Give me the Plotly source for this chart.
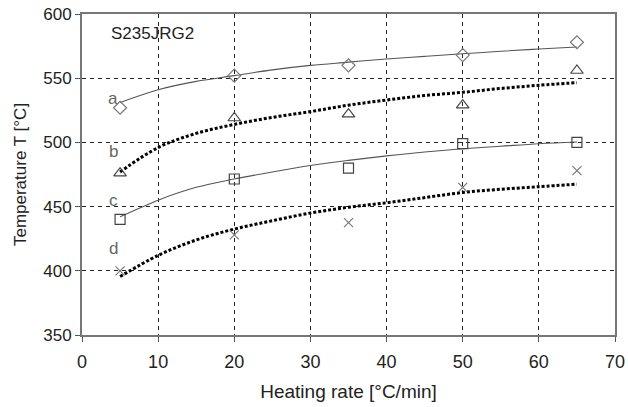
import plotly.graph_objects as go

# measured points
rate = [5, 20, 35, 50, 65]
temp_a = [527, 552, 560, 568, 578]
temp_b = [476, 519, 522, 529, 556]
temp_c = [440, 471.5, 480, 499, 500]
temp_d = [400, 428, 437.5, 465, 478]

# trend lines
fit_x = [5, 10, 15, 20, 25, 30, 35, 40, 45, 50, 55, 60, 65]
fit_a = [531, 541, 547.5, 552, 556.5, 560, 562.5, 565, 567, 569, 571, 572.7, 574.3]
fit_b = [477, 496, 507, 514, 519.5, 524, 529, 533, 536.5, 539, 542, 544.5, 546.5]
fit_c = [442, 455, 465, 471.5, 477, 482, 486, 489.5, 492.5, 495, 497, 499, 500.3]
fit_d = [395.5, 412, 424, 432.5, 439, 445, 449.5, 453, 457, 461, 463.5, 465.5, 467.5]

curve_labels = ["a", "b", "c", "d"]
label_x = [4.1, 4.1, 4.1, 4.1]
label_y = [534, 493, 454.5, 417]

font = "Liberation Sans, Arial, sans-serif"
fig = go.Figure()

for fy, thin in [(fit_a, True), (fit_b, False), (fit_c, True), (fit_d, False)]:
    if thin:
        line = dict(color="#555555", width=1.1, shape="spline")
    else:
        line = dict(color="black", width=3, dash="3px,2px", shape="spline")
    fig.add_trace(go.Scatter(x=fit_x, y=fy, mode="lines", line=line, showlegend=False, hoverinfo="skip"))

markers = [
    (temp_a, "diamond-open", "#777777", 10),
    (temp_b, "triangle-up-open", "#444444", 11),
    (temp_c, "square-open", "#444444", 10),
    (temp_d, "x-thin-open", "#777777", 9),
]
for ty, sym, col, sz in markers:
    fig.add_trace(go.Scatter(x=rate, y=ty, mode="markers",
                             marker=dict(symbol=sym, size=sz, color=col,
                                         line=dict(color=col, width=1.2)),
                             showlegend=False))

for lab, lx, ly in zip(curve_labels, label_x, label_y):
    fig.add_annotation(x=lx, y=ly, text=lab, showarrow=False,
                       font=dict(family=font, size=17, color="#666666"))

fig.add_annotation(x=(109 - 82) / 533, y=1 - (33 - 14) / 321, xref="paper", yref="paper",
                   text="S235JRG2", showarrow=False, xanchor="left", yanchor="middle",
                   font=dict(family=font, size=17, color="#222222"))

grid = dict(showgrid=True, gridcolor="#222222", griddash="4px,4px", gridwidth=1.3,
            showline=True, linecolor="#777777", linewidth=2, mirror=True,
            ticks="outside", ticklen=5, tickcolor="#555555", zeroline=False,
            automargin=False)

fig.update_layout(
    width=628, height=407,
    margin=dict(l=82, r=13, t=14, b=72),
    paper_bgcolor="white", plot_bgcolor="white",
    font=dict(family=font, size=17, color="#222222"),
    xaxis=dict(range=[0, 70], tickvals=[0, 10, 20, 30, 40, 50, 60, 70],
               title=dict(text="Heating rate [°C/min]", font=dict(size=19), standoff=14),
               tickfont=dict(size=18), ticklabelstandoff=4,
               **grid),
    yaxis=dict(range=[350, 600], tickvals=[350, 400, 450, 500, 550, 600],
               title=dict(text="Temperature T [°C]", font=dict(size=17), standoff=12),
               tickfont=dict(size=17),
               **grid),
)

fig.write_html("out.html", config={"displayModeBar": False},
               post_script="document.body.style.margin='0';")
